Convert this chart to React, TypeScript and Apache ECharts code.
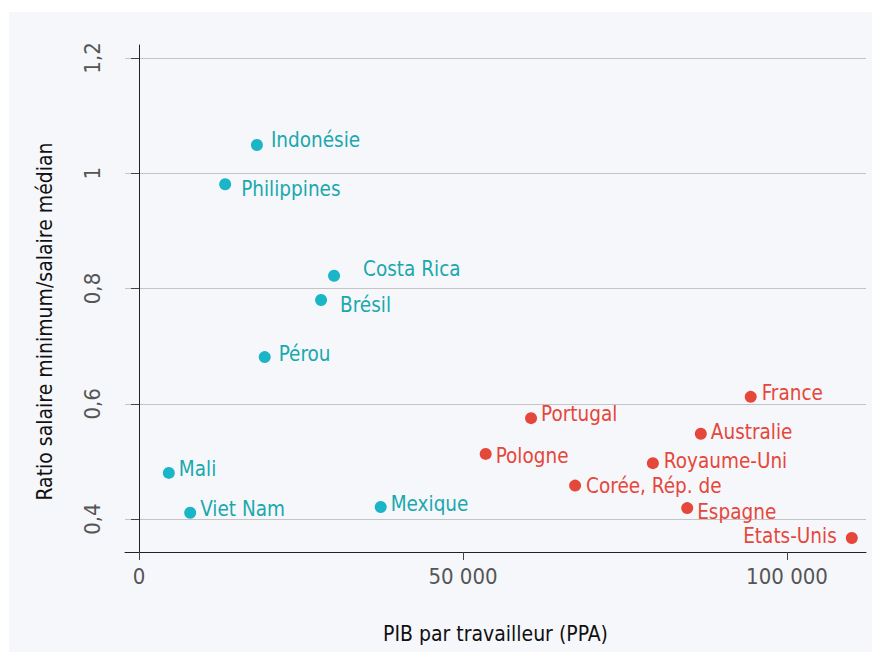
import React, { useEffect, useRef } from "react";
import * as echarts from "echarts";

const FONT = "'DejaVu Sans Condensed', 'DejaVu Sans', sans-serif";

// Emerging economies (cyan)
const emergingNames = ["Indonésie", "Philippines", "Costa Rica", "Brésil", "Pérou", "Mali", "Viet Nam", "Mexique"];
const emergingGdp = [18200, 13300, 30100, 28100, 19400, 4600, 7900, 37300];
const emergingRatio = [1.049, 0.981, 0.822, 0.78, 0.681, 0.48, 0.411, 0.421];

// Advanced economies (red)
const advancedNames = ["Portugal", "Pologne", "Corée, Rép. de", "Royaume-Uni", "Espagne", "Australie", "France", "Etats-Unis"];
const advancedGdp = [60500, 53500, 67300, 79300, 84600, 86700, 94400, 110000];
const advancedRatio = [0.575, 0.513, 0.458, 0.497, 0.419, 0.548, 0.612, 0.367];

const yTicks = [0.4, 0.6, 0.8, 1, 1.2];
const xTicks = [0, 50000, 100000];

// label placement tweaks [distance, dy, position]
const emergingLabelPos: [number, number, string][] = [
  [8, -5, "right"], [10, 5, "right"], [23, -7, "right"], [13, 5, "right"],
  [8, -3, "right"], [4, -4, "right"], [4, -4, "right"], [4, -3, "right"],
];
const advancedLabelPos: [number, number, string][] = [
  [4, -4, "right"], [4, 2, "right"], [5, 0, "right"], [5, -2, "right"],
  [4, 4, "right"], [4, -2, "right"], [5, -4, "right"], [9, -2, "left"],
];

const CYAN = "#1ab5c6";
const CYAN_TEXT = "#1aa8ae";
const RED = "#e5473a";

function buildData(names: string[], xs: number[], ys: number[], pos: [number, number, string][], color: string) {
  return names.map((n, i) => ({
    name: n,
    value: [xs[i], ys[i]],
    label: {
      show: true,
      formatter: n,
      position: pos[i][2],
      distance: pos[i][0],
      offset: [0, pos[i][1]],
      color,
      fontSize: 20.5,
      fontFamily: FONT,
    },
  }));
}

export default function App() {
  const ref = useRef<HTMLDivElement>(null);
  useEffect(() => {
    if (!ref.current) return;
    const chart = echarts.init(ref.current, null, { renderer: "svg" });
    chart.setOption({
      animation: false,
      backgroundColor: "#ffffff",
      graphic: [
        {
          type: "rect",
          left: 9,
          top: 12,
          shape: { width: 863, height: 640 },
          style: { fill: "#f6f7fb" },
          silent: true,
          z: -10,
        },
      ],
      grid: { left: 125, top: 45, right: 15, bottom: 100 },
      xAxis: {
        type: "value",
        min: -2160,
        max: 112190,
        name: "PIB par travailleur (PPA)",
        nameLocation: "middle",
        nameGap: 71,
        nameTextStyle: { color: "#111", fontSize: 21, fontFamily: FONT },
        axisLine: { show: true, lineStyle: { color: "#222", width: 1 } },
        axisTick: { show: true, length: 8, lineStyle: { color: "#444" }, customValues: xTicks },
        axisLabel: {
          customValues: xTicks,
          color: "#555",
          fontSize: 22,
          fontFamily: FONT,
          margin: 13,
          formatter: (v: number) => String(v).replace(/\B(?=(\d{3})+(?!\d))/g, " "),
        },
        splitLine: { show: false },
      },
      yAxis: {
        type: "value",
        min: 0.3428,
        max: 1.2225,
        name: "Ratio salaire minimum/salaire médian",
        nameLocation: "middle",
        nameGap: 70,
        nameTextStyle: { color: "#111", fontSize: 21, fontFamily: FONT, padding: [0, 46, 0, 0] },
        axisLine: { show: true, lineStyle: { color: "#222", width: 1 } },
        axisTick: { show: true, length: 8, lineStyle: { color: "#444" }, customValues: yTicks },
        axisLabel: {
          customValues: yTicks,
          rotate: 90,
          color: "#555",
          fontSize: 22,
          fontFamily: FONT,
          margin: 22,
          formatter: (v: number) => String(v).replace(".", ","),
        },
        splitLine: { show: true, lineStyle: { color: "#c4c4c4", width: 1.2 } },
      },
      series: [
        {
          type: "scatter",
          symbolSize: 12,
          itemStyle: { color: CYAN, opacity: 1 },
          data: buildData(emergingNames, emergingGdp, emergingRatio, emergingLabelPos, CYAN_TEXT),
        },
        {
          type: "scatter",
          symbolSize: 12,
          itemStyle: { color: RED, opacity: 1 },
          data: buildData(advancedNames, advancedGdp, advancedRatio, advancedLabelPos, RED),
        },
      ],
    });
    return () => chart.dispose();
  }, []);
  return <div ref={ref} style={{ width: 881, height: 652, position: "absolute", left: 0, top: 0 }} />;
}
